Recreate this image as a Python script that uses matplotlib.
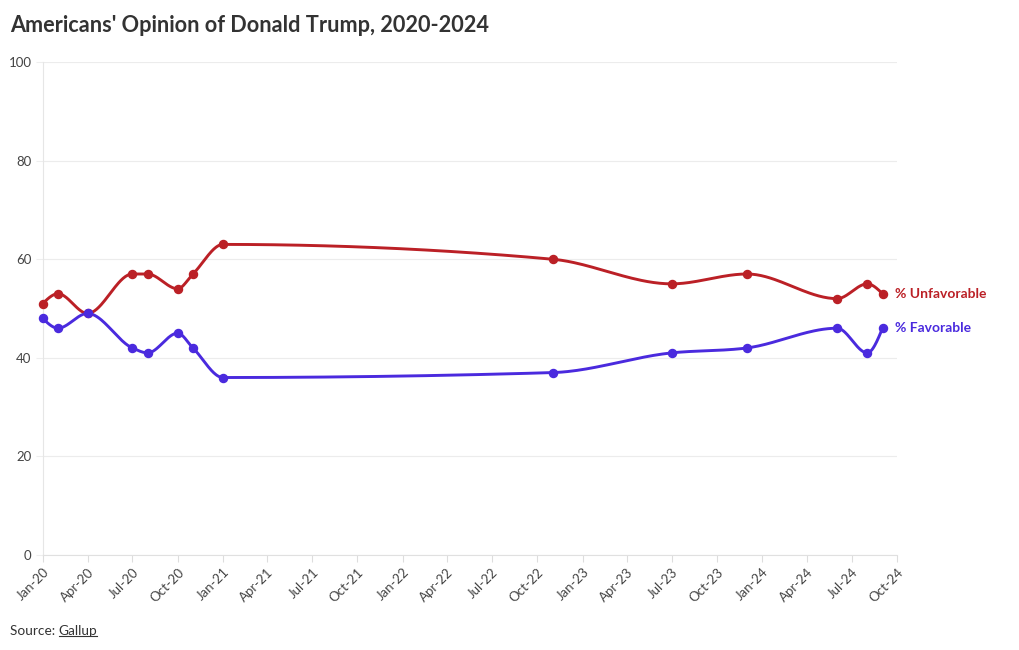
import numpy as np
import matplotlib.pyplot as plt
import matplotlib.dates as mdates
from matplotlib.lines import Line2D
from datetime import datetime

# Gallup polls, % of Americans
poll_dates = ['2020-01', '2020-02', '2020-04', '2020-07', '2020-08', '2020-10', '2020-11',
              '2021-01', '2022-11', '2023-07', '2023-12', '2024-06', '2024-08', '2024-09']
unfavorable = [51, 53, 49, 57, 57, 54, 57, 63, 60, 55, 57, 52, 55, 53]
favorable = [48, 46, 49, 42, 41, 45, 42, 36, 37, 41, 42, 46, 41, 46]
series_names = ['% Unfavorable', '% Favorable']
series_colors = ['#bb2026', '#4a2ade']
y_ticks = [0, 20, 40, 60, 80, 100]

plt.rcParams['font.family'] = ['Lato', 'DejaVu Sans']


def monotone_curve(x, y, n=40):
    # same shape as d3.curveMonotoneX
    x = np.asarray(x, float)
    y = np.asarray(y, float)
    m = len(x)
    h = np.diff(x)
    s = np.diff(y) / h
    t = np.zeros(m)
    for i in range(1, m - 1):
        p = (s[i - 1] * h[i] + s[i] * h[i - 1]) / (h[i - 1] + h[i])
        sg = (1 if s[i - 1] >= 0 else -1) + (1 if s[i] >= 0 else -1)
        t[i] = sg * min(abs(s[i - 1]), abs(s[i]), 0.5 * abs(p))
    t[0] = (3 * s[0] - t[1]) / 2
    t[-1] = (3 * s[-1] - t[-2]) / 2
    xs, ys = [], []
    for i in range(m - 1):
        u = np.linspace(0, 1, n)
        dx = h[i]
        p0, p3 = y[i], y[i + 1]
        p1 = y[i] + dx * t[i] / 3
        p2 = y[i + 1] - dx * t[i + 1] / 3
        yy = (1 - u) ** 3 * p0 + 3 * (1 - u) ** 2 * u * p1 + 3 * (1 - u) * u ** 2 * p2 + u ** 3 * p3
        xs.append(x[i] + u * dx)
        ys.append(yy)
    return np.concatenate(xs), np.concatenate(ys)


xd = mdates.date2num([datetime.strptime(d, '%Y-%m') for d in poll_dates])

fig = plt.figure(figsize=(10.2, 6.5), dpi=100)
ax = fig.add_axes([42.7 / 1020, 95 / 650, 854.6 / 1020, 493 / 650])

for vals, name, col in zip([unfavorable, favorable], series_names, series_colors):
    cx, cy = monotone_curve(xd, vals)
    ax.plot(cx, cy, color=col, lw=2.1, clip_on=False, zorder=3, solid_capstyle='round')
    ax.plot(xd, vals, 'o', color=col, ms=5.8, clip_on=False, zorder=4)
    ax.annotate(name, (xd[-1], vals[-1]), xytext=(9.3, 0), textcoords='offset points',
                color=col, fontsize=10, fontweight='bold', va='center', ha='left',
                annotation_clip=False)

# small gray connectors between last point and label
for vals in [unfavorable, favorable]:
    px, py = ax.transData.transform((xd[-1], vals[-1]))
    fig.add_artist(Line2D([(px + 6) / 1020, (px + 9) / 1020], [py / 650, py / 650],
                          color='#bbbbbb', lw=1))

quarters = [datetime(y, m, 1) for y in range(2020, 2025) for m in (1, 4, 7, 10)]
ax.set_xticks(mdates.date2num(quarters))
ax.set_xticklabels([q.strftime('%b-%y') for q in quarters], rotation=45,
                   ha='right', va='top', rotation_mode='anchor')
ax.set_xlim(mdates.date2num(datetime(2020, 1, 1)), mdates.date2num(datetime(2024, 10, 1)))
ax.set_ylim(0, 100)
ax.set_yticks(y_ticks)

ax.grid(axis='y', color='#ececec', lw=0.8)
ax.set_axisbelow(True)
for side in ['top', 'right']:
    ax.spines[side].set_visible(False)
ax.spines['left'].set_color('#e6e6e6')
ax.spines['bottom'].set_color('#e0e0e0')
ax.spines['left'].set_linewidth(0.8)
ax.spines['bottom'].set_linewidth(0.8)
ax.tick_params(axis='x', length=5, color='#dddddd', labelsize=9.5, labelcolor='#444444', pad=3)
ax.tick_params(axis='y', length=5, color='#eeeeee', labelsize=9.5, labelcolor='#444444', pad=3)

fig.text(10 / 1020, 1 - 25 / 650, "Americans' Opinion of Donald Trump, 2020-2024",
         fontsize=15.6, fontweight='bold', color='#333333', va='center', ha='left')

src = fig.text(10 / 1020, 1 - 631 / 650, 'Source: ', fontsize=9.8, color='#333333',
               va='center', ha='left')
fig.canvas.draw()
bb = src.get_window_extent()
link = fig.text(bb.x1 / 1020, 1 - 631 / 650, 'Gallup', fontsize=9.8, color='#333333',
                va='center', ha='left')
fig.canvas.draw()
lb = link.get_window_extent()
fig.add_artist(Line2D([lb.x0 / 1020, lb.x1 / 1020], [(lb.y0 + 1) / 650] * 2,
                      color='#333333', lw=0.8))

fig.savefig('out.png', dpi=100, facecolor='white')
